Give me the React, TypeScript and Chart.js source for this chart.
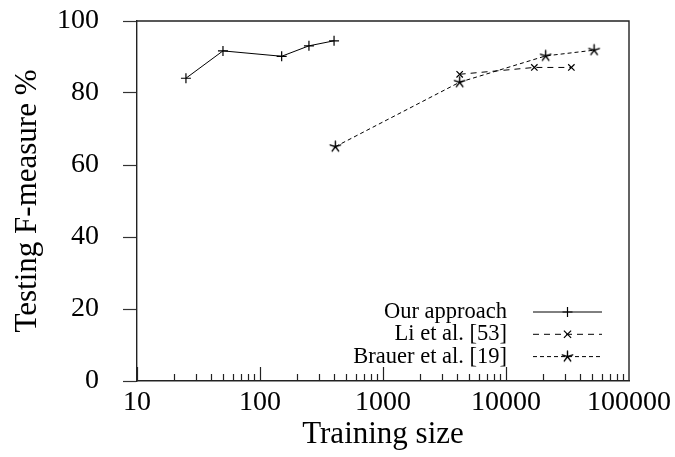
import React, { useEffect, useRef } from "react";
import { Chart, registerables } from "chart.js";

Chart.register(...registerables);

// Training-set sizes and testing F-measure (%) for each method
const ourSizes = [25, 50, 150, 250, 400];
const ourScores = [84.1, 91.7, 90.2, 93.1, 94.5];

const liSizes = [4200, 17000, 34000];
const liScores = [85.2, 87.1, 87.1];

const brauerSizes = [410, 4200, 21000, 52000];
const brauerScores = [65.1, 83.0, 90.3, 91.9];

const seriesLabels = ["Our approach", "Li et al. [53]", "Brauer et al. [19]"];

const xTickLabels = [10, 100, 1000, 10000, 100000];
const yTickLabels = [0, 20, 40, 60, 80, 100];

const SERIF = "'Liberation Serif', 'DejaVu Serif', serif";
const INK = "#000";

// five-armed asterisk used as the marker of the third series
function makeStar(): HTMLCanvasElement {
  const c = document.createElement("canvas");
  c.width = 15;
  c.height = 15;
  const g = c.getContext("2d")!;
  g.strokeStyle = INK;
  g.lineWidth = 1.4;
  g.lineCap = "round";
  g.beginPath();
  for (let k = 0; k < 5; k++) {
    const a = -Math.PI / 2 + (k * 2 * Math.PI) / 5;
    g.moveTo(7.5, 7.5);
    g.lineTo(7.5 + 5.5 * Math.cos(a), 7.5 + 5.5 * Math.sin(a));
  }
  g.stroke();
  return c;
}

function drawMarker(ctx: CanvasRenderingContext2D, style: any, x: number, y: number) {
  if (style instanceof HTMLCanvasElement) {
    ctx.drawImage(style, x - style.width / 2, y - style.height / 2);
    return;
  }
  const r = 5;
  ctx.setLineDash([]);
  ctx.lineWidth = 1.2;
  ctx.beginPath();
  if (style === "cross") {
    ctx.moveTo(x - r, y);
    ctx.lineTo(x + r, y);
    ctx.moveTo(x, y - r);
    ctx.lineTo(x, y + r);
  } else {
    const d = r * 0.72;
    ctx.moveTo(x - d, y - d);
    ctx.lineTo(x + d, y + d);
    ctx.moveTo(x - d, y + d);
    ctx.lineTo(x + d, y - d);
  }
  ctx.stroke();
}

// inner x ticks, top/right frame and the in-plot legend
const framePlugin = {
  id: "frameAndLegend",
  afterDraw(chart: any) {
    const { ctx, chartArea, scales } = chart;
    const xs = scales.x;
    ctx.save();
    ctx.strokeStyle = "#222";
    ctx.lineWidth = 1.2;

    // logarithmic ticks pointing into the plot
    ctx.beginPath();
    for (let d = 10; d < 100000; d *= 10) {
      for (let m = 1; m <= 9; m++) {
        const v = d * m;
        const px = Math.round(xs.getPixelForValue(v)) + 0.5;
        const len = m === 1 ? 14 : 7;
        ctx.moveTo(px, chartArea.bottom);
        ctx.lineTo(px, chartArea.bottom - len);
      }
    }
    ctx.stroke();

    // top and right frame lines
    ctx.lineWidth = 1.4;
    ctx.beginPath();
    ctx.moveTo(chartArea.left, chartArea.top);
    ctx.lineTo(chartArea.right, chartArea.top);
    ctx.lineTo(chartArea.right, chartArea.bottom);
    ctx.stroke();

    // legend
    const textRight = chartArea.left + 370;
    const lineStart = chartArea.left + 396;
    const lineEnd = chartArea.left + 465;
    const firstRow = 312;
    const rowGap = 22.3;
    ctx.font = `22.5px ${SERIF}`;
    ctx.fillStyle = INK;
    ctx.textAlign = "right";
    ctx.textBaseline = "middle";
    chart.data.datasets.forEach((ds: any, i: number) => {
      const y = firstRow + i * rowGap;
      ctx.fillText(ds.label, textRight, y);
      ctx.strokeStyle = INK;
      ctx.lineWidth = 1;
      ctx.setLineDash(ds.borderDash || []);
      ctx.beginPath();
      ctx.moveTo(lineStart, y);
      ctx.lineTo(lineEnd, y);
      ctx.stroke();
      drawMarker(ctx, ds.pointStyle, (lineStart + lineEnd) / 2, y);
    });
    ctx.restore();
  },
};

export default function App() {
  const canvasRef = useRef<HTMLCanvasElement | null>(null);

  useEffect(() => {
    const canvas = canvasRef.current;
    if (!canvas) return;
    const star = makeStar();

    const toPoints = (xs: number[], ys: number[]) => xs.map((x, i) => ({ x, y: ys[i] }));

    const lineStyle = {
      borderColor: INK,
      backgroundColor: INK,
      borderWidth: 1,
      pointBorderColor: INK,
      pointBorderWidth: 1.2,
      pointRadius: 5,
      tension: 0,
      fill: false,
    };

    const chart = new Chart(canvas, {
      type: "line",
      data: {
        datasets: [
          {
            ...lineStyle,
            label: seriesLabels[0],
            data: toPoints(ourSizes, ourScores),
            pointStyle: "cross",
            borderDash: [],
          },
          {
            ...lineStyle,
            label: seriesLabels[1],
            data: toPoints(liSizes, liScores),
            pointStyle: "crossRot",
            pointRadius: 4.5,
            borderDash: [6, 5],
          },
          {
            ...lineStyle,
            label: seriesLabels[2],
            data: toPoints(brauerSizes, brauerScores),
            pointStyle: star as any,
            borderDash: [4, 3],
          },
        ],
      },
      options: {
        animation: false,
        responsive: false,
        maintainAspectRatio: false,
        layout: { padding: { top: 21, right: 46, left: 0, bottom: 0 } },
        plugins: {
          legend: { display: false },
          tooltip: { enabled: false },
        },
        scales: {
          x: {
            type: "logarithmic",
            position: "bottom",
            min: 10,
            max: 100000,
            afterBuildTicks: (scale: any) => {
              scale.ticks = xTickLabels.map((v) => ({ value: v }));
            },
            afterFit: (scale: any) => {
              scale.height = 76;
              scale.paddingLeft = 0;
              scale.paddingRight = 0;
            },
            grid: { display: false, drawTicks: false },
            border: { display: true, color: "#222", width: 1.4 },
            ticks: {
              autoSkip: false,
              maxRotation: 0,
              padding: 5,
              color: INK,
              font: { family: SERIF, size: 28 },
              callback: (v: any) => String(v),
            },
            title: {
              display: true,
              text: "Training size",
              color: INK,
              font: { family: SERIF, size: 31 },
              padding: { top: 0, bottom: 3.5 },
            },
          },
          y: {
            type: "linear",
            min: 0,
            max: 100,
            afterBuildTicks: (scale: any) => {
              scale.ticks = yTickLabels.map((v) => ({ value: v }));
            },
            afterFit: (scale: any) => {
              scale.width = 137;
              scale.paddingTop = 0;
              scale.paddingBottom = 0;
            },
            grid: {
              display: true,
              drawOnChartArea: false,
              drawTicks: true,
              tickLength: 14,
              tickColor: "#333",
              tickWidth: 1.2,
            },
            border: { display: true, color: "#222", width: 1.4 },
            ticks: {
              padding: 24,
              color: INK,
              font: { family: SERIF, size: 28 },
            },
            title: {
              display: true,
              text: "Testing F-measure %",
              color: INK,
              font: { family: SERIF, size: 31 },
              padding: { top: 9.5, bottom: 0 },
            },
          },
        },
      },
      plugins: [framePlugin],
    });

    return () => chart.destroy();
  }, []);

  return (
    <div style={{ position: "fixed", left: 0, top: 0, width: 675, height: 457, background: "#fff" }}>
      <canvas ref={canvasRef} width={675} height={457} style={{ display: "block" }} />
    </div>
  );
}
